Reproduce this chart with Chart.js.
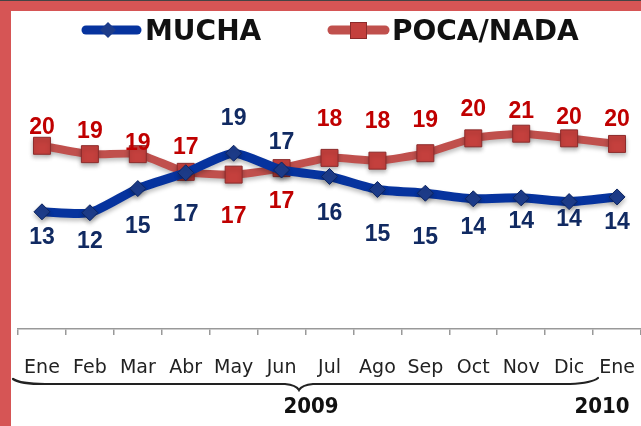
<!DOCTYPE html>
<html>
<head>
<meta charset="utf-8">
<script src="https://cdn.jsdelivr.net/npm/chart.js@4/dist/chart.umd.min.js"></script>
<style>
  html, body { margin: 0; padding: 0; background: #fff; }
  #wrap { width: 641px; height: 426px; position: relative; }
</style>
</head>
<body>
<div id="wrap"><canvas id="chart" width="641" height="426"></canvas></div>
<script>
const months = ['Ene', 'Feb', 'Mar', 'Abr', 'May', 'Jun', 'Jul', 'Ago', 'Sep', 'Oct', 'Nov', 'Dic', 'Ene'];
const mucha = [12.6, 12.5, 15.1, 16.8, 18.9, 17.1, 16.4, 15.0, 14.6, 14.0, 14.1, 13.7, 14.2];
const pocaNada = [19.7, 18.8, 18.8, 16.9, 16.6, 17.3, 18.4, 18.1, 18.9, 20.5, 21.0, 20.5, 19.9];
const muchaLabels = [13, 12, 15, 17, 19, 17, 16, 15, 15, 14, 14, 14, 14];
const pocaLabels = [20, 19, 19, 17, 17, 17, 18, 18, 19, 20, 21, 20, 20];
const years = ['2009', '2010'];

// label offsets from the point (px), just where the original put them
const muchaDy = [26, 29, 38, 42, -35, -27, 37, 45, 44, 29, 24, 18, 26];
const pocaDy = [-18, -23, -11, -24, 42, 34, -38, -39, -33, -29, -22, -21, -24];

const BLUE = '#06339e';
const RED = '#c0504d';

const decor = {
    id: 'decor',
    beforeDraw(chart) {
        const ctx = chart.ctx;
        ctx.save();
        ctx.fillStyle = '#fff';
        ctx.fillRect(0, 0, chart.width, chart.height);
        ctx.fillStyle = '#d65555';
        ctx.fillRect(0, 0, chart.width, 11);
        ctx.fillRect(0, 0, 11, chart.height);
        ctx.fillStyle = '#444';
        ctx.fillRect(0, 0, chart.width, 1);
        ctx.restore();
    },
    beforeDatasetsDraw(chart) {
        // soft shadow under the lines and markers
        chart.ctx.save();
        chart.ctx.shadowColor = 'rgba(0,0,0,0.25)';
        chart.ctx.shadowBlur = 4;
        chart.ctx.shadowOffsetY = 3;
    },
    afterDatasetsDraw(chart) {
        const ctx = chart.ctx;
        ctx.restore();
        ctx.save();
        ctx.font = 'bold 23px "Liberation Sans", Arial, sans-serif';
        ctx.textAlign = 'center';
        ctx.textBaseline = 'middle';
        const sets = [[0, muchaLabels, muchaDy, '#112a62'], [1, pocaLabels, pocaDy, '#c00000']];
        for (const [i, texts, dy, color] of sets) {
            ctx.fillStyle = color;
            chart.getDatasetMeta(i).data.forEach((pt, k) => {
                ctx.fillText(String(texts[k]), pt.x, pt.y + dy[k]);
            });
        }
        ctx.restore();
    },
    afterDraw(chart) {
        const ctx = chart.ctx;
        ctx.save();
        // legend
        ctx.lineCap = 'round';
        ctx.lineWidth = 9;
        ctx.strokeStyle = BLUE;
        ctx.beginPath(); ctx.moveTo(86, 30); ctx.lineTo(137, 30); ctx.stroke();
        ctx.fillStyle = '#1d3c8a';
        ctx.beginPath();
        ctx.moveTo(108, 22); ctx.lineTo(116, 30); ctx.lineTo(108, 38); ctx.lineTo(100, 30);
        ctx.closePath(); ctx.fill();
        ctx.strokeStyle = RED;
        ctx.beginPath(); ctx.moveTo(332, 30); ctx.lineTo(385, 30); ctx.stroke();
        ctx.fillStyle = '#c4403d';
        ctx.fillRect(350, 22, 17, 17);
        ctx.strokeStyle = '#8c2b2b'; ctx.lineWidth = 1;
        ctx.strokeRect(350.5, 22.5, 16, 16);

        ctx.fillStyle = '#111';
        ctx.font = 'bold 28px "DejaVu Sans", sans-serif';
        ctx.textAlign = 'left';
        ctx.textBaseline = 'middle';
        ctx.fillText('MUCHA', 145, 33);
        ctx.fillText('POCA/NADA', 392, 33);

        // brace under the months of 2009
        ctx.strokeStyle = '#222';
        ctx.lineWidth = 2.2;
        ctx.beginPath();
        ctx.moveTo(13, 379);
        ctx.quadraticCurveTo(20, 384, 45, 384);
        ctx.lineTo(285, 384);
        ctx.quadraticCurveTo(296, 385, 299, 390);
        ctx.quadraticCurveTo(302, 385, 313, 384);
        ctx.lineTo(570, 384);
        ctx.quadraticCurveTo(592, 383, 598, 378);
        ctx.stroke();

        ctx.fillStyle = '#111';
        ctx.font = 'bold 22px "DejaVu Sans Condensed", "DejaVu Sans", sans-serif';
        ctx.textAlign = 'center';
        ctx.fillText(years[0], 311, 407);
        ctx.fillText(years[1], 602, 407);
        ctx.restore();
    }
};

new Chart(document.getElementById('chart').getContext('2d'), {
    type: 'line',
    data: {
        labels: months,
        datasets: [{
            label: 'MUCHA',
            data: mucha,
            borderColor: BLUE,
            borderWidth: 9,
            tension: 0.2,
            pointStyle: 'rectRot',
            pointRadius: 8,
            pointBackgroundColor: '#1d3c8a',
            pointBorderColor: '#0d2560',
            pointBorderWidth: 1
        }, {
            label: 'POCA/NADA',
            data: pocaNada,
            borderColor: RED,
            borderWidth: 8,
            tension: 0.2,
            pointStyle: 'rect',
            pointRadius: 12,
            pointBackgroundColor: '#c4403d',
            pointBorderColor: '#8c2b2b',
            pointBorderWidth: 1
        }]
    },
    options: {
        responsive: false,
        animation: false,
        layout: { autoPadding: false, padding: { left: 18, right: 0, top: 50, bottom: 0 } },
        plugins: {
            legend: { display: false },
            tooltip: { enabled: false }
        },
        scales: {
            x: {
                offset: true,
                grid: { offset: true, drawOnChartArea: false, tickLength: 6, color: '#999', lineWidth: 1.5 },
                border: { color: '#999', width: 1.5 },
                ticks: {
                    padding: 0,
                    color: '#222',
                    // tall line box pushes the month names down without side padding
                    font: { family: '"DejaVu Sans", sans-serif', size: 19, lineHeight: 3.5 },
                    maxRotation: 0,
                    autoSkip: false
                },
                afterFit(scale) { scale.height = 97; }
            },
            y: {
                display: false,
                min: 0,
                max: 30
            }
        }
    },
    plugins: [decor]
});
</script>
</body>
</html>
